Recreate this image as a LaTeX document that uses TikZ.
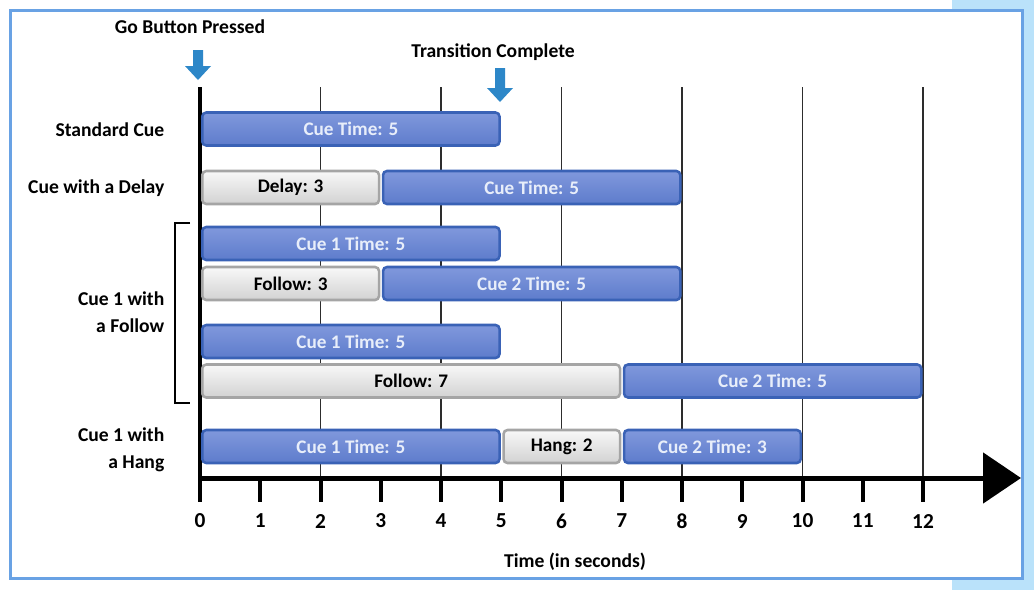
\documentclass[tikz,border=0pt]{standalone}
\usepackage{fontspec}
\setmainfont{Carlito}
\usetikzlibrary{arrows.meta}
\definecolor{cuetop}{RGB}{128,152,220}
\definecolor{cuebot}{RGB}{94,124,204}
\definecolor{cueedge}{RGB}{58,98,182}
\definecolor{cuetext}{RGB}{232,238,250}
\definecolor{waittop}{RGB}{248,248,248}
\definecolor{waitbot}{RGB}{210,210,210}
\definecolor{waitedge}{RGB}{165,165,165}
\definecolor{markblue}{RGB}{45,135,200}
\definecolor{frameblue}{RGB}{105,162,228}
\definecolor{bgblue}{RGB}{186,226,250}
\definecolor{gridgray}{RGB}{45,45,45}

\begin{document}
\begin{tikzpicture}[x=0.75pt,y=-0.75pt,
    cue/.style={draw=cueedge, line width=1.9pt, rounded corners=3pt, top color=cuetop, bottom color=cuebot, text=cuetext, minimum height=33*0.75pt, inner sep=0pt, anchor=west, font=\bfseries\fontsize{14.4}{16}\selectfont},
    wait/.style={cue, draw=waitedge, top color=waittop, bottom color=waitbot, text=black},
    secs/.style={minimum width={(60.25*#1-4)*0.75pt}},
    rowname/.style={align=right, anchor=east, font=\bfseries\fontsize{14.7}{20}\selectfont},
    toplabel/.style={font=\bfseries\fontsize{14.7}{16}\selectfont},
    ticklabel/.style={font=\bfseries\fontsize{16}{18}\selectfont},
    gridline/.style={gridgray, line width=1.1pt},
    tick/.style={black, line width=3pt}]
    \useasboundingbox (0,0) rectangle (1034,590);
    \fill[bgblue] (952,0) rectangle (1034,590);
    \draw[frameblue, line width=2.25pt, fill=white] (10,10) rectangle (1022,578);

    \foreach \t in {2,4,...,12}
        \draw[gridline] ({200+60.25*\t},87) -- ({200+60.25*\t},478);
    \foreach \t in {1,...,12}
        \draw[tick] ({200+60.25*\t},478) -- ({200+60.25*\t},502);
    \foreach \t in {0,...,12}
        \node[ticklabel] (t\t) at ({200+60.25*\t},521) {\t};
    \draw[tick] (200,87) -- (200,502);

    \coordinate (origin) at (200,478);
    \coordinate (axisend) at (1021,478);
    \draw[black, line width=3.75pt, -{Triangle[length=28.5pt,width=37.5pt]}] (origin) -- (axisend);
    \node[toplabel] (timelbl) at (575,562) {Time (in seconds)};

    \node[toplabel] (gobtn) at (190,27) {Go Button Pressed};
    \node[toplabel] (trans) at (493,52) {Transition Complete};
    \fill[markblue] (193,50) -- (203,50) -- (203,66) -- (211,66) -- (198,80) -- (185,66) -- (193,66) -- cycle;
    \fill[markblue] (495,68) -- (505,68) -- (505,88) -- (513,88) -- (500,102) -- (487,88) -- (495,88) -- cycle;

    \node[rowname] (stdname) at (169,130) {Standard Cue};
    \node[rowname] (delayname) at (169,188) {Cue with a Delay};
    \node[rowname] (followname) at (169,312) {Cue 1 with\\a Follow};
    \node[rowname] (hangname) at (169,450) {Cue 1 with\\a Hang};
    \draw[black, line width=1.5pt] (190,223) -- (175,223) -- (175,403) -- (190,403);

    \node[cue, secs=5] (std) at (201,129) {Cue Time: 5};
    \node[wait, secs=3] (delay) at (201,187.5) {Delay: 3};
    \node[cue, secs=5] (delaycue) at (381.75,187.5) {Cue Time: 5};
    \node[cue, secs=5] (cueA) at (201,243.5) {Cue 1 Time: 5};
    \node[wait, secs=3] (follow3) at (201,283.5) {Follow: 3};
    \node[cue, secs=5] (cueB) at (381.75,283.5) {Cue 2 Time: 5};
    \node[cue, secs=5] (cueC) at (201,341.5) {Cue 1 Time: 5};
    \node[wait, secs=7] (follow7) at (201,381) {Follow: 7};
    \node[cue, secs=5] (cueD) at (622.75,381) {Cue 2 Time: 5};
    \node[cue, secs=5] (cueE) at (201,446.5) {Cue 1 Time: 5};
    \node[wait, secs=2] (hang) at (502.25,446.5) {Hang: 2};
    \node[cue, secs=3] (cueF) at (622.75,446.5) {Cue 2 Time: 3};
\end{tikzpicture}
\end{document}
